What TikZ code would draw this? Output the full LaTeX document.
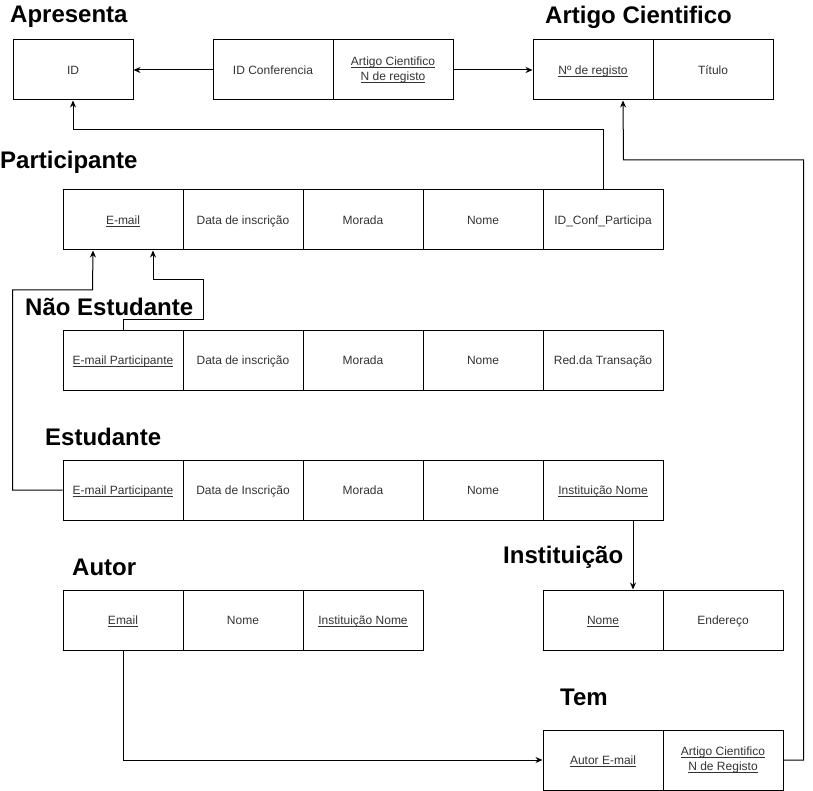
\documentclass[tikz,border=0pt]{standalone}
\usepackage{fontspec}
\setmainfont{Liberation Sans}
\usetikzlibrary{arrows.meta}
\newcommand\cst{\rule[-3pt]{0pt}{14.5pt}}
\newcommand\ulx[1]{\setbox0\hbox{#1}\rlap{\copy0}\rule[-2pt]{\wd0}{0.6pt}}
\begin{document}
\begin{tikzpicture}[x=1pt,y=-1pt,
  cell/.style={draw,line width=1pt,minimum width=120pt,minimum height=60pt,inner sep=0pt,align=center,font=\fontsize{12}{15}\selectfont,text=black!80,execute at begin node=\cst},
  ttl/.style={anchor=west,inner sep=0pt,font=\fontsize{24}{26}\selectfont\bfseries},
  arr/.style={line width=1pt,-{Stealth[length=7pt,width=6pt]}}]
\useasboundingbox (0,0) rectangle (813,791);
% titles
\node[ttl] (tApr) at (10,17) {Apresenta};
\node[ttl] (tArt) at (545,17) {Artigo Cientifico};
\node[ttl] (tPar) at (0,162) {Participante};
\node[ttl] (tNE) at (25,307) {Não Estudante};
\node[ttl] (tEst) at (45,437) {Estudante};
\node[ttl] (tIns) at (503,557) {Instituição};
\node[ttl] (tAut) at (72,567) {Autor};
\node[ttl] (tTem) at (560,697) {Tem};
% Apresenta
\node[cell] (id) at (73,70) {ID};
\node[cell] (ic) at (273,70) {ID Conferencia};
\node[cell] (acn) at (393,70) {\ulx{Artigo Cientifico}\\\cst\ulx{N de registo}};
% Artigo
\node[cell] (ar) at (593,70) {\ulx{Nº de registo}};
\node[cell] (at) at (713,70) {Título};
% Participante
\node[cell] (p1) at (123,220) {\ulx{E-mail}};
\node[cell] (p2) at (243,220) {Data de inscrição};
\node[cell] (p3) at (363,220) {Morada};
\node[cell] (p4) at (483,220) {Nome};
\node[cell] (p5) at (603,220) {ID\_Conf\_Participa};
% Nao Estudante
\node[cell] (n1) at (123,360) {\ulx{E-mail Participante}};
\node[cell] (n2) at (243,360) {Data de inscrição};
\node[cell] (n3) at (363,360) {Morada};
\node[cell] (n4) at (483,360) {Nome};
\node[cell] (n5) at (603,360) {Red.da Transação};
% Estudante
\node[cell] (e1) at (123,490) {\ulx{E-mail Participante}};
\node[cell] (e2) at (243,490) {Data de Inscrição};
\node[cell] (e3) at (363,490) {Morada};
\node[cell] (e4) at (483,490) {Nome};
\node[cell] (e5) at (603,490) {\ulx{Instituição Nome}};
% Autor
\node[cell] (a1) at (123,620) {\ulx{Email}};
\node[cell] (a2) at (243,620) {Nome};
\node[cell] (a3) at (363,620) {\ulx{Instituição Nome}};
% Instituicao
\node[cell] (i1) at (603,620) {\ulx{Nome}};
\node[cell] (i2) at (723,620) {Endereço};
% Tem
\node[cell] (t1) at (603,760) {\ulx{Autor E-mail}};
\node[cell] (t2) at (723,760) {\ulx{Artigo Cientifico}\\\cst\ulx{N de Registo}};
% connectors
\draw[arr] (ic.west) -- (id.east);
\draw[arr] (acn.east) -- (ar.west);
\draw[arr] (p5.north) -- ++(0,-60) -| (id.south);
\draw[arr] (n1.north) -- ++(0,-10) -| ++(80,-40) -| ([xshift=30pt]p1.south);
\draw[arr] (e1.west) -- ++(-50,0) |- ++(80,-200) -- ([xshift=-30pt]p1.south);
\draw[arr] ([xshift=30pt]e5.south) -- ([xshift=30pt]i1.north);
\draw[arr] (a1.south) |- (t1.west);
\draw[arr] (t2.east) -- ++(20,0) |- ++(-180,-600) -- ([xshift=30pt]ar.south);
\end{tikzpicture}
\end{document}
